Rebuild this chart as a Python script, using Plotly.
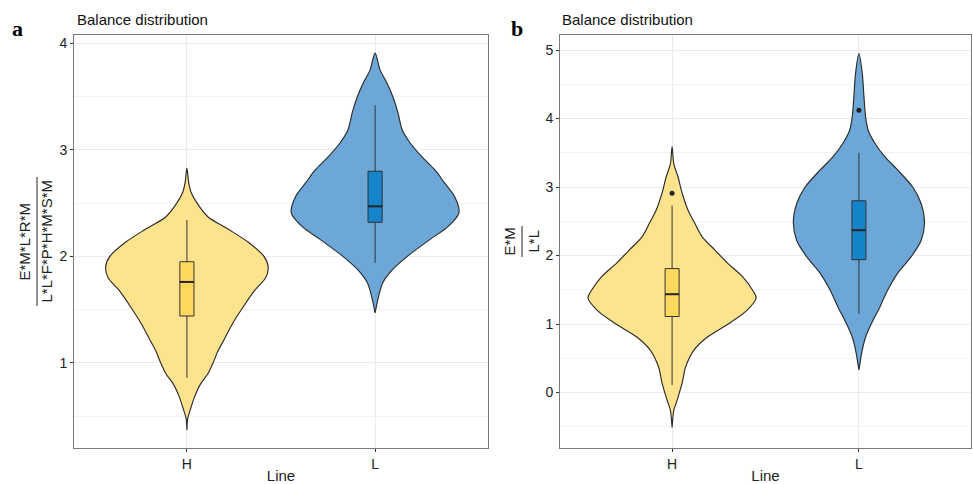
import plotly.graph_objects as go

W, H = 973, 484

# ---------------- data ----------------
categories = ["H", "L"]
cat_pos = [1, 2]

# Panel a: violin density profiles (y value, relative density)
a_H_y = [2.83, 2.70, 2.60, 2.50, 2.37, 2.25, 2.13, 2.00, 1.90, 1.80, 1.68, 1.52,
         1.37, 1.22, 1.10, 1.00, 0.90, 0.80, 0.68, 0.56, 0.48, 0.37]
a_H_d = [0, .02, .05, .12, .25, .50, .73, .91, .96, .93, .80, .66,
         .54, .44, .36, .31, .25, .16, .09, .04, .01, 0]
a_L_y = [3.91, 3.75, 3.63, 3.50, 3.35, 3.19, 3.07, 2.93, 2.81, 2.69, 2.56, 2.41,
         2.28, 2.16, 2.00, 1.87, 1.75, 1.62, 1.47]
a_L_d = [0, .06, .14, .21, .27, .32, .41, .56, .71, .82, .94, .99,
         .86, .65, .38, .20, .09, .04, 0]
# Panel a: box statistics [H, L]
a_q1 = [1.44, 2.32]
a_med = [1.76, 2.47]
a_q3 = [1.95, 2.80]
a_lo = [0.86, 1.94]
a_hi = [2.34, 3.42]

# Panel b
b_H_y = [3.59, 3.34, 3.15, 2.91, 2.66, 2.47, 2.27, 2.08, 1.89, 1.69, 1.49, 1.38,
         1.20, 1.01, 0.81, 0.62, 0.37, 0.14, -0.11, -0.26, -0.36, -0.51]
b_H_d = [0, .02, .07, .12, .19, .27, .36, .51, .66, .84, .96, 1.0,
         .89, .68, .42, .26, .16, .12, .06, .02, .01, 0]
b_L_y = [4.95, 4.66, 4.32, 4.02, 3.83, 3.64, 3.44, 3.25, 3.00, 2.76, 2.47, 2.22,
         1.98, 1.74, 1.49, 1.25, 1.01, 0.81, 0.62, 0.33]
b_L_d = [0, .04, .06, .08, .11, .19, .31, .46, .64, .74, .78, .74,
         .62, .46, .34, .25, .15, .08, .04, 0]
b_q1 = [1.11, 1.94]
b_med = [1.435, 2.37]
b_q3 = [1.81, 2.80]
b_lo = [0.11, 1.15]
b_hi = [2.73, 3.50]
b_out_x = ["H", "L"]
b_out_y = [2.91, 4.12]

# ---------------- styles ----------------
violin_fill = {"H": "#FEE38E", "L": "#6DA7D7"}
box_fill = {"H": "#FFD75C", "L": "#1684CA"}
outline = "#2b2b2b"
grid_major = "#EBEBEB"
grid_minor = "#F3F3F3"
font_sans = "Liberation Sans, Arial, sans-serif"
HALF = 0.45  # max half-width of violin in category units
BOXW = 0.075
XR = [0.4, 2.6]
YR_A = [0.20, 4.08]
YR_B = [-0.81, 5.22]

fig = go.Figure()


def add_violin(pos, ys, ds, color, xa, ya):
    xs_r = [pos + HALF * d for d in ds]
    xs_l = [pos - HALF * d for d in ds]
    xs = xs_r + xs_l[::-1]
    yy = list(ys) + list(ys)[::-1]
    fig.add_trace(go.Scatter(
        x=xs, y=yy, mode="lines", fill="toself", fillcolor=color,
        line=dict(color=outline, width=1.15, shape="spline", smoothing=0.8),
        xaxis=xa, yaxis=ya, hoverinfo="skip", showlegend=False))


def add_box(pos, q1, med, q3, lo, hi, color, xa, ya):
    fig.add_trace(go.Box(
        x=[pos], q1=[q1], median=[med], q3=[q3], lowerfence=[lo], upperfence=[hi],
        orientation="v",
        width=BOXW, fillcolor=color, line=dict(color="#333333", width=1),
        whiskerwidth=0, boxpoints=False, xaxis=xa, yaxis=ya, showlegend=False,
        hoverinfo="skip"))
    # thicker median line, as in ggplot
    fig.add_trace(go.Scatter(
        x=[pos - BOXW / 2, pos + BOXW / 2], y=[med, med], mode="lines",
        line=dict(color="#262626", width=2), xaxis=xa, yaxis=ya,
        hoverinfo="skip", showlegend=False))


# panel a: violins on base axes, boxes on overlaying axes (drawn above)
add_violin(cat_pos[0], a_H_y, a_H_d, violin_fill["H"], "x", "y")
add_violin(cat_pos[1], a_L_y, a_L_d, violin_fill["L"], "x", "y")
for i, c in enumerate(categories):
    add_box(cat_pos[i], a_q1[i], a_med[i], a_q3[i], a_lo[i], a_hi[i], box_fill[c], "x3", "y3")

# panel b
add_violin(cat_pos[0], b_H_y, b_H_d, violin_fill["H"], "x2", "y2")
add_violin(cat_pos[1], b_L_y, b_L_d, violin_fill["L"], "x2", "y2")
for i, c in enumerate(categories):
    add_box(cat_pos[i], b_q1[i], b_med[i], b_q3[i], b_lo[i], b_hi[i], box_fill[c], "x4", "y4")
fig.add_trace(go.Scatter(
    x=[cat_pos[categories.index(c)] for c in b_out_x], y=b_out_y, mode="markers",
    marker=dict(color="#222222", size=5), xaxis="x4", yaxis="y4",
    hoverinfo="skip", showlegend=False))


def px_x(p):
    return p / W


def px_y(p):
    return 1 - p / H


common_x = dict(
    range=XR, tickmode="array", tickvals=cat_pos, ticktext=categories,
    showgrid=True, gridcolor=grid_major, gridwidth=1, zeroline=False,
    showline=True, linecolor="#7a7a7a", linewidth=1, mirror=True,
    ticks="outside", ticklen=3, tickcolor="#333333",
    tickfont=dict(family=font_sans, size=14, color="#222222"),
    title=dict(text="Line", font=dict(family=font_sans, size=15, color="#222222"), standoff=2),
)
common_y = dict(
    dtick=1, tick0=0, showgrid=True, gridcolor=grid_major, gridwidth=1, zeroline=False,
    showline=True, linecolor="#7a7a7a", linewidth=1, mirror=True,
    ticks="outside", ticklen=3, tickcolor="#333333",
    tickfont=dict(family=font_sans, size=14, color="#222222"),
    minor=dict(dtick=0.5, showgrid=True, gridcolor=grid_minor, gridwidth=1),
)
hidden = dict(visible=False, showgrid=False, zeroline=False, fixedrange=True)

fig.update_layout(
    width=W, height=H, margin=dict(l=0, r=0, t=0, b=0),
    paper_bgcolor="white", plot_bgcolor="white",
    showlegend=False, boxmode="overlay",
    xaxis=dict(domain=[px_x(74), px_x(488)], anchor="y", **common_x),
    yaxis=dict(domain=[px_y(448), px_y(35)], anchor="x", range=YR_A, **common_y),
    xaxis2=dict(domain=[px_x(560), px_x(971)], anchor="y2", **common_x),
    yaxis2=dict(domain=[px_y(448), px_y(35)], anchor="x2", range=YR_B, **common_y),
    xaxis3=dict(overlaying="x", anchor="y3", range=XR, **hidden),
    yaxis3=dict(overlaying="y", anchor="x3", range=YR_A, **hidden),
    xaxis4=dict(overlaying="x2", anchor="y4", range=XR, **hidden),
    yaxis4=dict(overlaying="y2", anchor="x4", range=YR_B, **hidden),
)

ann = []
# panel titles
for x0 in (75, 560):
    ann.append(dict(text="Balance distribution", x=px_x(x0), y=px_y(20), xref="paper", yref="paper",
                    xanchor="left", yanchor="middle", showarrow=False,
                    font=dict(family=font_sans, size=15, color="#111111")))
# panel letters
for lab, x0 in (("a", 17), ("b", 517)):
    ann.append(dict(text="<b>%s</b>" % lab, x=px_x(x0), y=px_y(29), xref="paper", yref="paper",
                    xanchor="center", yanchor="middle", showarrow=False,
                    font=dict(family="Liberation Serif, Times New Roman, serif", size=22, color="#000000")))
# fraction y-axis titles
frac = [
    ("E*M*L*R*M", "L*L*F*P*H*M*S*M", 24, 46, 37, 177, 306),
    ("E*M", "L*L", 509, 533, 522, 226, 257),
]
shapes = []
for num, den, xn, xd, xb, yb0, yb1 in frac:
    yc = (yb0 + yb1) / 2
    ann.append(dict(text=num, x=px_x(xn), y=px_y(yc), xref="paper", yref="paper",
                    textangle=-90, xanchor="center", yanchor="middle", showarrow=False,
                    font=dict(family=font_sans, size=15, color="#222222")))
    ann.append(dict(text=den, x=px_x(xd), y=px_y(yc), xref="paper", yref="paper",
                    textangle=-90, xanchor="center", yanchor="middle", showarrow=False,
                    font=dict(family=font_sans, size=15, color="#222222")))
    shapes.append(dict(type="line", xref="paper", yref="paper",
                       x0=px_x(xb), x1=px_x(xb), y0=px_y(yb0), y1=px_y(yb1),
                       line=dict(color="#222222", width=1)))

fig.update_layout(annotations=ann, shapes=shapes)

fig.write_html(
    "out.html",
    config={"displayModeBar": False},
    post_script=["document.body.style.margin='0px';document.body.style.overflow='hidden';"],
)
